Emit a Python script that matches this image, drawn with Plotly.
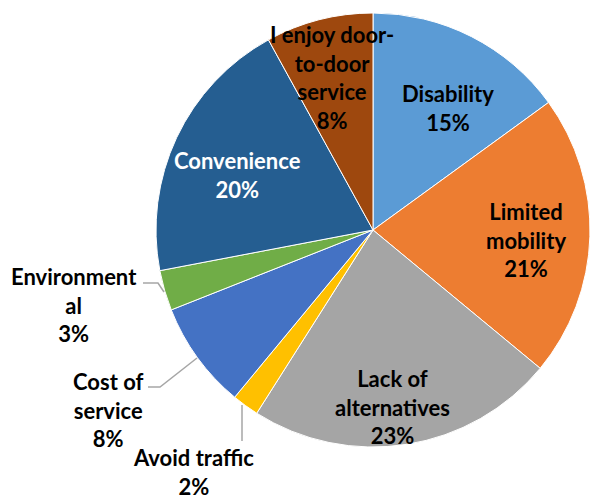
import plotly.graph_objects as go

# Reasons for using the service (share of respondents, %)
categories = [
    "Disability",
    "Limited mobility",
    "Lack of alternatives",
    "Avoid traffic",
    "Cost of service",
    "Environmental",
    "Convenience",
    "I enjoy door-to-door service",
]
values = [15, 21, 23, 2, 8, 3, 20, 8]
wrapped_labels = [
    "Disability",
    "Limited<br>mobility",
    "Lack of<br>alternatives",
    "Avoid traffic",
    "Cost of<br>service",
    "Environment<br>al",
    "Convenience",
    "I enjoy door-<br>to-door<br>service",
]
colors = ["#5B9BD5", "#ED7D31", "#A5A5A5", "#FFC000",
          "#4472C4", "#70AD47", "#255E91", "#9E480E"]
label_colors = ["#000000"] * 6 + ["#FFFFFF", "#000000"]

W, H = 590, 499
CX, CY, R = 373, 230, 217


def px_x(x):
    return x / W


def px_y(y):
    return 1 - y / H


fig = go.Figure(
    go.Pie(
        labels=categories,
        values=values,
        sort=False,
        direction="clockwise",
        rotation=0,
        textinfo="none",
        marker=dict(colors=colors, line=dict(color="#FFFFFF", width=1)),
        domain=dict(x=[px_x(CX - R), px_x(CX + R)],
                    y=[px_y(CY + R), px_y(CY - R)]),
        showlegend=False,
        hoverinfo="label+percent",
    )
)

# Data label placement (pixel centres of each label block)
label_pos = [
    (448, 108), (526, 240), (392, 407), (193, 472),
    (108, 410), (74, 305), (237, 175), (332, 78),
]

annotations = []
for name, v, (lx, ly), c in zip(wrapped_labels, values, label_pos, label_colors):
    annotations.append(dict(
        text=f"<b>{name}<br>{v}%</b>",
        x=px_x(lx), y=px_y(ly), xref="paper", yref="paper",
        xanchor="center", yanchor="middle", showarrow=False,
        font=dict(family="Lato", size=22, color=c),
        align="center",
    ))

# Leader lines for the labels placed outside the pie
leaders = [
    [(143, 283), (158, 283), (164, 292)],
    [(148, 387), (160, 387), (197, 358)],
    [(242, 405), (242, 441)],
]
shapes = []
for pts in leaders:
    path = "M " + " L ".join(f"{px_x(x)},{px_y(y)}" for x, y in pts)
    shapes.append(dict(type="path", path=path, xref="paper", yref="paper",
                       line=dict(color="#A6A6A6", width=1.5)))

fig.update_layout(
    width=W, height=H,
    margin=dict(l=0, r=0, t=0, b=0),
    paper_bgcolor="#FFFFFF",
    plot_bgcolor="#FFFFFF",
    annotations=annotations,
    shapes=shapes,
)

fig.write_html("out.html")
